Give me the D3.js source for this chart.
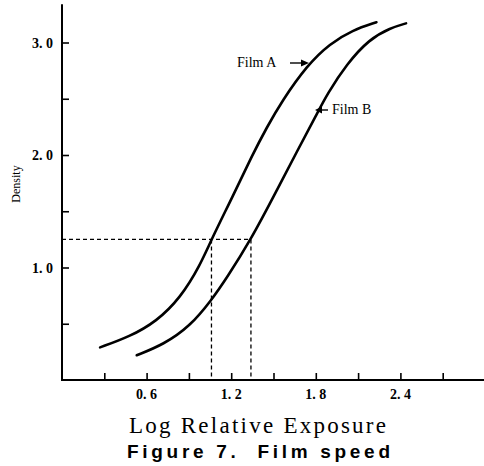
<!DOCTYPE html>
<html><head><meta charset="utf-8">
<script src="https://cdn.jsdelivr.net/npm/d3@7"></script>
<style>body{margin:0;background:#fff}svg{display:block}</style>
</head><body>
<svg id="c" width="484" height="466"></svg>
<script>
// Data
const filmAx = [0.27,0.48,0.67,0.84,0.98,1.06,1.21,1.35,1.45,1.56,1.74,1.90,2.06,2.23];
const filmAy = [0.29,0.385,0.52,0.73,1.02,1.25,1.63,2.00,2.24,2.48,2.80,2.99,3.11,3.18];
const filmBx = [0.53,0.72,0.91,1.06,1.17,1.34,1.50,1.67,1.81,1.88,2.02,2.18,2.33,2.44];
const filmBy = [0.22,0.315,0.48,0.71,0.91,1.25,1.63,2.04,2.37,2.54,2.81,3.03,3.13,3.17];
const xTicks = [0.3,0.6,0.9,1.2,1.5,1.8,2.1,2.4,2.7];
const xTickLabels = {"0.6":"0. 6","1.2":"1. 2","1.8":"1. 8","2.4":"2. 4"};
const yTicks = [0.5,1.0,1.5,2.0,2.5,3.0];
const yTickLabels = {"1":"1. 0","2":"2. 0","3":"3. 0"};
const speedDensity = 1.25;
const speedA = 1.06, speedB = 1.34;

const svg = d3.select("#c");
const x = d3.scaleLinear().domain([0, 3]).range([62, 485]);
const y = d3.scaleLinear().domain([0, 3]).range([380, 42.5]);
const serif = "'Liberation Serif','DejaVu Serif',serif";

// axes
const xAxis = d3.axisBottom(x).tickValues(xTicks).tickSize(-7).tickFormat("");
const gx = svg.append("g").attr("transform","translate(0,380)").call(xAxis);
gx.select(".domain").attr("d", `M${x(0)},0H${x(3)}`).attr("stroke-width",2);
gx.selectAll(".tick line").attr("stroke-width",1.6);

const yAxis = d3.axisLeft(y).tickValues(yTicks).tickSize(-7).tickFormat("");
const gy = svg.append("g").attr("transform",`translate(${x(0)},0)`).call(yAxis);
gy.select(".domain").attr("d", `M0,${y(0)+1}V${y(3.34)}`).attr("stroke-width",2);
gy.selectAll(".tick line").attr("stroke-width",1.6);

// tick labels
svg.append("g").selectAll("text").data(yTicks.filter(d=>yTickLabels[String(d)]))
  .join("text").attr("x", x(0)-9).attr("y", d=>y(d)+5)
  .attr("text-anchor","end").attr("font-family",serif).attr("font-size",14).attr("font-weight","bold")
  .text(d=>yTickLabels[String(d)]);
svg.append("g").selectAll("text").data(xTicks.filter(d=>xTickLabels[d.toFixed(1)]))
  .join("text").attr("x", d=>x(d)).attr("y", 399)
  .attr("text-anchor","middle").attr("font-family",serif).attr("font-size",14).attr("font-weight","bold")
  .text(d=>xTickLabels[d.toFixed(1)]);

// dashed speed lines
const dash = svg.append("g").attr("stroke","#000").attr("stroke-width",1.3).attr("stroke-dasharray","4,3").attr("fill","none");
dash.append("line").attr("x1",x(0)).attr("x2",x(speedB)).attr("y1",y(speedDensity)).attr("y2",y(speedDensity));
dash.append("line").attr("x1",x(speedA)).attr("x2",x(speedA)).attr("y1",y(speedDensity)).attr("y2",y(0));
dash.append("line").attr("x1",x(speedB)).attr("x2",x(speedB)).attr("y1",y(speedDensity)).attr("y2",y(0));

// curves
const line = d3.line().x(d=>x(d[0])).y(d=>y(d[1])).curve(d3.curveBasis);
const A = filmAx.map((v,i)=>[v, filmAy[i]]);
const B = filmBx.map((v,i)=>[v, filmBy[i]]);
svg.append("path").attr("d", line(A)).attr("fill","none").attr("stroke","#000").attr("stroke-width",2.6).attr("stroke-linecap","round");
svg.append("path").attr("d", line(B)).attr("fill","none").attr("stroke","#000").attr("stroke-width",2.6).attr("stroke-linecap","round");

// annotations
svg.append("text").attr("x",237).attr("y",67).attr("font-family",serif).attr("font-size",14).text("Film A");
svg.append("line").attr("x1",290).attr("x2",303).attr("y1",63).attr("y2",63).attr("stroke","#000").attr("stroke-width",1.4);
svg.append("path").attr("d","M309,63L301,59.5L301,66.5Z").attr("fill","#000");
svg.append("line").attr("x1",320).attr("x2",328).attr("y1",110).attr("y2",110).attr("stroke","#000").attr("stroke-width",1.4);
svg.append("path").attr("d","M315,110L322,106.5L322,113.5Z").attr("fill","#000");
svg.append("text").attr("x",332).attr("y",114).attr("font-family",serif).attr("font-size",14).text("Film B");

// axis titles
svg.append("text").attr("transform","translate(20,184) rotate(-90)").attr("text-anchor","middle")
  .attr("font-family",serif).attr("font-size",12).text("Density");
svg.append("text").attr("x",129).attr("y",433).attr("font-family",serif).attr("font-size",23)
  .attr("textLength",257).attr("lengthAdjust","spacing").text("Log Relative Exposure");
svg.append("text").attr("x",127).attr("y",458).attr("font-family","'Liberation Sans','DejaVu Sans',sans-serif").attr("font-size",19).attr("font-weight","bold")
  .attr("textLength",263).attr("lengthAdjust","spacing").style("white-space","pre").text("Figure 7.  Film speed");
</script>
</body></html>
